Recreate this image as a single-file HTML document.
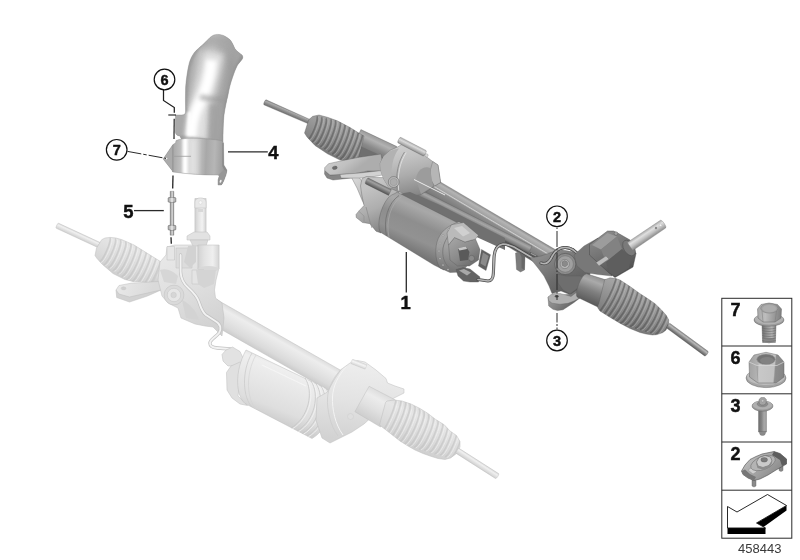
<!DOCTYPE html>
<html><head><meta charset="utf-8"><title>458443</title>
<style>
html,body{margin:0;padding:0;background:#fff;}
body{width:800px;height:560px;overflow:hidden;font-family:"Liberation Sans",sans-serif;}
svg{display:block;font-family:"Liberation Sans",sans-serif;}
</style></head><body>
<svg width="800" height="560" viewBox="0 0 800 560">
<defs>
<linearGradient id="g1" gradientUnits="userSpaceOnUse" x1="79.4" y1="232.9" x2="77.1" y2="237.9"><stop offset="0" stop-color="#dadada"/><stop offset="0.3" stop-color="#f0f0f0"/><stop offset="1" stop-color="#cfcfcf"/></linearGradient>
<linearGradient id="g2" gradientUnits="userSpaceOnUse" x1="278.8" y1="335.0" x2="267.2" y2="355.6"><stop offset="0" stop-color="#dcdcdc"/><stop offset="0.2" stop-color="#ededed"/><stop offset="0.5" stop-color="#e4e4e4"/><stop offset="0.8" stop-color="#dadada"/><stop offset="1" stop-color="#cccccc"/></linearGradient>
<linearGradient id="g3" gradientUnits="userSpaceOnUse" x1="140.0" y1="238.0" x2="118.0" y2="284.0"><stop offset="0" stop-color="#d6d6d6"/><stop offset="0.25" stop-color="#e6e6e6"/><stop offset="0.6" stop-color="#dadada"/><stop offset="1" stop-color="#c9c9c9"/></linearGradient>
<clipPath id="cp1"><polygon points="101.7,239.7 105.0,238.0 110.0,237.4 116.0,238.0 122.0,239.7 134.0,245.0 146.0,252.5 158.0,260.0 170.0,267.5 176.0,272.0 172.0,290.0 160.0,288.0 150.0,283.0 140.0,281.5 134.0,281.7 125.0,279.5 113.0,273.5 102.5,264.5 97.0,258.5 95.0,255.5 96.5,248.0"/></clipPath>
<linearGradient id="g4" gradientUnits="userSpaceOnUse" x1="177.1" y1="268.7" x2="166.9" y2="289.3"><stop offset="0" stop-color="#dcdcdc"/><stop offset="0.25" stop-color="#ececec"/><stop offset="1" stop-color="#cfcfcf"/></linearGradient>
<linearGradient id="g5" gradientUnits="userSpaceOnUse" x1="120.0" y1="283.0" x2="150.0" y2="296.0"><stop offset="0" stop-color="#e8e8e8"/><stop offset="1" stop-color="#dadada"/></linearGradient>
<linearGradient id="g6" gradientUnits="userSpaceOnUse" x1="175.0" y1="245.0" x2="215.0" y2="325.0"><stop offset="0" stop-color="#e9e9e9"/><stop offset="0.5" stop-color="#dfdfdf"/><stop offset="1" stop-color="#d2d2d2"/></linearGradient>
<linearGradient id="g7" gradientUnits="userSpaceOnUse" x1="206.1" y1="218.2" x2="194.9" y2="218.2"><stop offset="0" stop-color="#d2d2d2"/><stop offset="0.35" stop-color="#f2f2f2"/><stop offset="0.7" stop-color="#e2e2e2"/><stop offset="1" stop-color="#d0d0d0"/></linearGradient>
<linearGradient id="g8" gradientUnits="userSpaceOnUse" x1="219.1" y1="257.0" x2="197.9" y2="257.0"><stop offset="0" stop-color="#d4d4d4"/><stop offset="0.3" stop-color="#efefef"/><stop offset="0.7" stop-color="#e2e2e2"/><stop offset="1" stop-color="#d2d2d2"/></linearGradient>
<linearGradient id="g9" gradientUnits="userSpaceOnUse" x1="290.0" y1="362.0" x2="268.0" y2="418.0"><stop offset="0" stop-color="#dcdcdc"/><stop offset="0.15" stop-color="#efefef"/><stop offset="0.45" stop-color="#e7e7e7"/><stop offset="0.8" stop-color="#dedede"/><stop offset="1" stop-color="#cecece"/></linearGradient>
<linearGradient id="g10" gradientUnits="userSpaceOnUse" x1="355.0" y1="360.0" x2="345.0" y2="440.0"><stop offset="0" stop-color="#eeeeee"/><stop offset="0.5" stop-color="#e3e3e3"/><stop offset="1" stop-color="#d2d2d2"/></linearGradient>
<linearGradient id="g11" gradientUnits="userSpaceOnUse" x1="359.9" y1="362.0" x2="358.1" y2="366.5"><stop offset="0" stop-color="#e0e0e0"/><stop offset="0.4" stop-color="#f4f4f4"/><stop offset="1" stop-color="#d4d4d4"/></linearGradient>
<linearGradient id="g12" gradientUnits="userSpaceOnUse" x1="382.5" y1="392.7" x2="367.5" y2="419.8"><stop offset="0" stop-color="#dcdcdc"/><stop offset="0.25" stop-color="#ececec"/><stop offset="0.6" stop-color="#e0e0e0"/><stop offset="1" stop-color="#cdcdcd"/></linearGradient>
<linearGradient id="g13" gradientUnits="userSpaceOnUse" x1="432.0" y1="408.0" x2="410.0" y2="456.0"><stop offset="0" stop-color="#d5d5d5"/><stop offset="0.25" stop-color="#e6e6e6"/><stop offset="0.6" stop-color="#dadada"/><stop offset="1" stop-color="#c8c8c8"/></linearGradient>
<clipPath id="cp2"><polygon points="385.5,402.5 387.0,401.0 394.0,400.0 402.0,401.0 411.0,404.0 420.0,408.5 428.0,413.5 435.0,419.0 444.5,425.0 450.0,431.0 456.5,435.5 460.0,441.5 460.0,447.0 456.5,453.5 450.5,458.0 445.0,459.5 438.0,458.5 430.0,456.0 423.0,453.5 415.0,450.0 408.0,446.0 400.0,441.0 393.0,435.5 386.0,430.0 379.5,425.0"/></clipPath>
<linearGradient id="g14" gradientUnits="userSpaceOnUse" x1="478.6" y1="460.8" x2="475.4" y2="465.7"><stop offset="0" stop-color="#dadada"/><stop offset="0.3" stop-color="#f0f0f0"/><stop offset="1" stop-color="#cfcfcf"/></linearGradient>
<linearGradient id="g15" gradientUnits="userSpaceOnUse" x1="288.6" y1="109.6" x2="286.4" y2="114.7"><stop offset="0" stop-color="#8c8c8c"/><stop offset="0.25" stop-color="#aaaaaa"/><stop offset="0.6" stop-color="#8a8a8a"/><stop offset="1" stop-color="#6a6a6a"/></linearGradient>
<linearGradient id="g16" gradientUnits="userSpaceOnUse" x1="378.9" y1="138.1" x2="369.1" y2="158.9"><stop offset="0" stop-color="#9a9a9a"/><stop offset="0.2" stop-color="#b2b2b2"/><stop offset="0.5" stop-color="#8a8a8a"/><stop offset="1" stop-color="#666"/></linearGradient>
<linearGradient id="g17" gradientUnits="userSpaceOnUse" x1="512.5" y1="224.3" x2="501.5" y2="242.9"><stop offset="0" stop-color="#8a8a8a"/><stop offset="0.12" stop-color="#b4b4b4"/><stop offset="0.3" stop-color="#a2a2a2"/><stop offset="0.34" stop-color="#d0d0d0"/><stop offset="0.4" stop-color="#8e8e8e"/><stop offset="0.7" stop-color="#7c7c7c"/><stop offset="1" stop-color="#5e5e5e"/></linearGradient>
<linearGradient id="g18" gradientUnits="userSpaceOnUse" x1="475.0" y1="217.2" x2="471.0" y2="225.1"><stop offset="0" stop-color="#8c8c8c"/><stop offset="0.3" stop-color="#a6a6a6"/><stop offset="0.7" stop-color="#7c7c7c"/><stop offset="1" stop-color="#4e4e4e"/></linearGradient>
<linearGradient id="g19" gradientUnits="userSpaceOnUse" x1="350.0" y1="118.0" x2="330.0" y2="160.0"><stop offset="0" stop-color="#aeaeae"/><stop offset="0.3" stop-color="#9e9e9e"/><stop offset="0.65" stop-color="#8a8a8a"/><stop offset="1" stop-color="#727272"/></linearGradient>
<clipPath id="cp3"><polygon points="308.7,119.8 312.7,116.3 319.0,115.0 327.5,117.3 337.3,120.8 350.0,127.5 360.0,133.8 364.0,136.0 361.0,148.0 358.0,160.5 347.5,161.3 340.0,160.0 327.5,153.8 315.0,145.5 307.0,137.0 304.5,133.0"/></clipPath>
<linearGradient id="g20" gradientUnits="userSpaceOnUse" x1="330.0" y1="158.0" x2="345.0" y2="178.0"><stop offset="0" stop-color="#cecece"/><stop offset="0.6" stop-color="#c0c0c0"/><stop offset="1" stop-color="#adadad"/></linearGradient>
<linearGradient id="g21" gradientUnits="userSpaceOnUse" x1="352.0" y1="178.0" x2="372.0" y2="200.0"><stop offset="0" stop-color="#dadada"/><stop offset="0.5" stop-color="#c6c6c6"/><stop offset="1" stop-color="#a4a4a4"/></linearGradient>
<linearGradient id="g22" gradientUnits="userSpaceOnUse" x1="360.0" y1="190.0" x2="378.0" y2="232.0"><stop offset="0" stop-color="#c4c4c4"/><stop offset="0.5" stop-color="#aeaeae"/><stop offset="1" stop-color="#868686"/></linearGradient>
<linearGradient id="g23" gradientUnits="userSpaceOnUse" x1="379.9" y1="183.9" x2="377.1" y2="189.6"><stop offset="0" stop-color="#7a7a7a"/><stop offset="0.3" stop-color="#a0a0a0"/><stop offset="1" stop-color="#555"/></linearGradient>
<linearGradient id="g24" gradientUnits="userSpaceOnUse" x1="405.0" y1="140.0" x2="418.0" y2="196.0"><stop offset="0" stop-color="#d2d2d2"/><stop offset="0.3" stop-color="#c2c2c2"/><stop offset="0.6" stop-color="#acacac"/><stop offset="1" stop-color="#848484"/></linearGradient>
<linearGradient id="g25" gradientUnits="userSpaceOnUse" x1="413.4" y1="143.9" x2="410.6" y2="149.5"><stop offset="0" stop-color="#b0b0b0"/><stop offset="0.35" stop-color="#dadada"/><stop offset="0.7" stop-color="#b4b4b4"/><stop offset="1" stop-color="#8a8a8a"/></linearGradient>
<linearGradient id="g26" gradientUnits="userSpaceOnUse" x1="425.0" y1="205.0" x2="405.0" y2="250.0"><stop offset="0" stop-color="#a2a2a2"/><stop offset="0.12" stop-color="#a8a8a8"/><stop offset="0.4" stop-color="#8e8e8e"/><stop offset="0.7" stop-color="#929292"/><stop offset="1" stop-color="#747474"/></linearGradient>
<linearGradient id="g27" gradientUnits="userSpaceOnUse" x1="455.0" y1="222.0" x2="448.0" y2="274.0"><stop offset="0" stop-color="#b4b4b4"/><stop offset="0.5" stop-color="#a0a0a0"/><stop offset="1" stop-color="#707070"/></linearGradient>
<linearGradient id="g28" gradientUnits="userSpaceOnUse" x1="455.0" y1="240.0" x2="475.0" y2="268.0"><stop offset="0" stop-color="#a0a0a0"/><stop offset="0.5" stop-color="#888888"/><stop offset="1" stop-color="#646464"/></linearGradient>
<linearGradient id="g29" gradientUnits="userSpaceOnUse" x1="545.0" y1="255.0" x2="570.0" y2="300.0"><stop offset="0" stop-color="#8a8a8a"/><stop offset="0.5" stop-color="#6c6c6c"/><stop offset="1" stop-color="#585858"/></linearGradient>
<linearGradient id="g30" gradientUnits="userSpaceOnUse" x1="550.0" y1="296.0" x2="565.0" y2="312.0"><stop offset="0" stop-color="#9a9a9a"/><stop offset="0.5" stop-color="#848484"/><stop offset="1" stop-color="#666666"/></linearGradient>
<linearGradient id="g31" gradientUnits="userSpaceOnUse" x1="600.0" y1="232.0" x2="622.0" y2="280.0"><stop offset="0" stop-color="#8c8c8c"/><stop offset="0.4" stop-color="#747474"/><stop offset="0.75" stop-color="#5a5a5a"/><stop offset="1" stop-color="#484848"/></linearGradient>
<linearGradient id="g32" gradientUnits="userSpaceOnUse" x1="643.8" y1="231.3" x2="649.2" y2="239.4"><stop offset="0" stop-color="#a8a8a8"/><stop offset="0.3" stop-color="#e0e0e0"/><stop offset="0.6" stop-color="#c2c2c2"/><stop offset="1" stop-color="#8a8a8a"/></linearGradient>
<linearGradient id="g33" gradientUnits="userSpaceOnUse" x1="597.7" y1="276.4" x2="587.3" y2="302.9"><stop offset="0" stop-color="#8e8e8e"/><stop offset="0.22" stop-color="#aaaaaa"/><stop offset="0.55" stop-color="#808080"/><stop offset="1" stop-color="#585858"/></linearGradient>
<linearGradient id="g34" gradientUnits="userSpaceOnUse" x1="640.0" y1="285.0" x2="618.0" y2="330.0"><stop offset="0" stop-color="#acacac"/><stop offset="0.3" stop-color="#9c9c9c"/><stop offset="0.65" stop-color="#868686"/><stop offset="1" stop-color="#6e6e6e"/></linearGradient>
<clipPath id="cp4"><polygon points="604.7,279.7 610.0,277.8 615.0,278.3 620.0,280.0 630.0,286.5 640.0,293.7 647.5,298.5 655.0,303.7 661.0,309.5 666.0,315.0 668.8,320.0 668.3,325.0 666.0,330.0 662.5,332.7 657.0,334.6 652.5,335.0 646.0,334.0 640.0,332.5 630.0,328.5 620.0,323.2 610.0,317.3 600.0,311.0 597.7,307.7"/></clipPath>
<linearGradient id="g35" gradientUnits="userSpaceOnUse" x1="688.8" y1="337.3" x2="685.5" y2="341.8"><stop offset="0" stop-color="#8a8a8a"/><stop offset="0.3" stop-color="#b8b8b8"/><stop offset="0.6" stop-color="#8c8c8c"/><stop offset="1" stop-color="#5e5e5e"/></linearGradient>
<filter id="bl3" filterUnits="userSpaceOnUse" x="0" y="0" width="800" height="560"><feGaussianBlur stdDeviation="3"/></filter>
<filter id="bl2" filterUnits="userSpaceOnUse" x="0" y="0" width="800" height="560"><feGaussianBlur stdDeviation="2"/></filter>
<filter id="bl1" filterUnits="userSpaceOnUse" x="0" y="0" width="800" height="560"><feGaussianBlur stdDeviation="1"/></filter>
<filter id="bl05" filterUnits="userSpaceOnUse" x="0" y="0" width="800" height="560"><feGaussianBlur stdDeviation="0.5"/></filter>
<clipPath id="cUp"><path d="M210,37.5 C213,35 215,34.4 217.5,34.4 C220,34.4 223,35 225,36.3 C228,38 230,39.5 231,41 C233,44 234,47 235,48.8 C237,51.5 240,53.5 242,55 C243,56.5 243,58 242,59.4 C240.5,61.5 239,63 237.5,65 C235.5,69 234,73 232.5,77.5 C230.5,83 229,89 228,95 C226.5,101 225,108 224,115 C223.3,122 223,130 223,146 L185.6,142 C183,141 181,139 180,136 C176.5,135.5 175.6,134 175.6,132 L175.6,115 L182,115 C184.5,115 185.6,114 185.6,111 C185.4,103 185.4,95 185.6,87.5 C185.9,83 186.4,79 187,75 C187.6,70.5 188.4,66.5 189.4,62.5 C190.6,58.5 192.4,55.3 194.4,52.5 C197,49.5 200,47 202.5,45 C205,42.5 207.5,40 210,37.5 Z"/></clipPath>
<clipPath id="cLo"><path d="M172.5,145 L175.6,142.8 L176,140.6 C180,139 184,138.5 188,138.3 C195,138 205,138.3 222,140.6 L223.5,143.2 L223.8,165 L226.9,170 C226.6,173 226,175.5 225,177.5 C224,180.5 222.8,183 221.3,185 L218,185 L218,180 L219.4,175.6 L217.5,175 C204,175.2 187,174 172.5,171.9 L172.5,171 L163.2,159 L172.5,145.2 Z"/></clipPath>
<linearGradient id="g36" gradientUnits="userSpaceOnUse" x1="184.0" y1="95.0" x2="226.0" y2="101.0"><stop offset="0" stop-color="#a3a3a3"/><stop offset="0.25" stop-color="#c2c2c2"/><stop offset="0.55" stop-color="#bcbcbc"/><stop offset="0.8" stop-color="#acacac"/><stop offset="1" stop-color="#9e9e9e"/></linearGradient>
<linearGradient id="g37" gradientUnits="userSpaceOnUse" x1="172.0" y1="160.0" x2="225.0" y2="162.0"><stop offset="0" stop-color="#a6a6a6"/><stop offset="0.14" stop-color="#bcbcbc"/><stop offset="0.3" stop-color="#d4d4d4"/><stop offset="0.5" stop-color="#c4c4c4"/><stop offset="0.64" stop-color="#a8a8a8"/><stop offset="0.8" stop-color="#b6b6b6"/><stop offset="1" stop-color="#979797"/></linearGradient>
<linearGradient id="g38" gradientUnits="userSpaceOnUse" x1="173.8" y1="213.2" x2="170.2" y2="213.2"><stop offset="0" stop-color="#7d7d7d"/><stop offset="0.45" stop-color="#e2e2e2"/><stop offset="1" stop-color="#7a7a7a"/></linearGradient>
<linearGradient id="g39" gradientUnits="userSpaceOnUse" x1="776.0" y1="333.8" x2="762.0" y2="333.8"><stop offset="0" stop-color="#7e7e7e"/><stop offset="0.3" stop-color="#b6b6b6"/><stop offset="0.6" stop-color="#9a9a9a"/><stop offset="1" stop-color="#6e6e6e"/></linearGradient>
<linearGradient id="g40" gradientUnits="userSpaceOnUse" x1="757.0" y1="310.0" x2="782.0" y2="312.0"><stop offset="0" stop-color="#a6a6a6"/><stop offset="0.35" stop-color="#bdbdbd"/><stop offset="0.7" stop-color="#9a9a9a"/><stop offset="1" stop-color="#7e7e7e"/></linearGradient>
<linearGradient id="g41" gradientUnits="userSpaceOnUse" x1="749.0" y1="365.0" x2="784.0" y2="368.0"><stop offset="0" stop-color="#a2a2a2"/><stop offset="0.25" stop-color="#b2b2b2"/><stop offset="0.3" stop-color="#c8c8c8"/><stop offset="0.72" stop-color="#c2c2c2"/><stop offset="0.76" stop-color="#8e8e8e"/><stop offset="1" stop-color="#848484"/></linearGradient>
<linearGradient id="g42" gradientUnits="userSpaceOnUse" x1="766.5" y1="421.0" x2="758.5" y2="421.0"><stop offset="0" stop-color="#9c9c9c"/><stop offset="0.3" stop-color="#a8a8a8"/><stop offset="0.6" stop-color="#858585"/><stop offset="1" stop-color="#6c6c6c"/></linearGradient>
<linearGradient id="g43" gradientUnits="userSpaceOnUse" x1="750.0" y1="455.0" x2="775.0" y2="480.0"><stop offset="0" stop-color="#bcbcbc"/><stop offset="0.5" stop-color="#a2a2a2"/><stop offset="1" stop-color="#858585"/></linearGradient>
</defs>
<rect width="800" height="560" fill="#ffffff"/>
<g id="ghost">
<path d="M58.6,223.3 L100.1,242.5 L97.9,247.5 L56.4,228.3 A0.9,2.7 24.8 0 1 58.6,223.3 Z" fill="url(#g1)" stroke="#bcbcbc" stroke-width="0.5" />
<path d="M201.8,291.1 L355.8,378.9 L344.2,399.5 L190.2,311.7 Z" fill="url(#g2)" stroke="#bcbcbc" stroke-width="0.5" />
<polygon points="101.7,239.7 105.0,238.0 110.0,237.4 116.0,238.0 122.0,239.7 134.0,245.0 146.0,252.5 158.0,260.0 170.0,267.5 176.0,272.0 172.0,290.0 160.0,288.0 150.0,283.0 140.0,281.5 134.0,281.7 125.0,279.5 113.0,273.5 102.5,264.5 97.0,258.5 95.0,255.5 96.5,248.0" fill="url(#g3)" stroke="#bcbcbc" stroke-width="0.5" stroke-linejoin="round" />
<g clip-path="url(#cp1)">
<path d="M109.8,237.3 A2.7,13.4 23.7 0 1 99.0,261.8" fill="none" stroke="#c2c2c2" stroke-width="1.6" opacity="0.6"/>
<path d="M115.0,238.6 A2.9,14.2 23.7 0 1 103.5,264.7" fill="none" stroke="#c2c2c2" stroke-width="1.6" opacity="0.6"/>
<path d="M120.2,240.0 A3.0,15.1 23.7 0 1 108.0,267.6" fill="none" stroke="#c2c2c2" stroke-width="1.6" opacity="0.6"/>
<path d="M125.3,241.4 A3.2,15.9 23.7 0 1 112.5,270.5" fill="none" stroke="#c2c2c2" stroke-width="1.6" opacity="0.6"/>
<path d="M130.5,242.7 A3.4,16.8 23.7 0 1 117.0,273.4" fill="none" stroke="#c2c2c2" stroke-width="1.6" opacity="0.6"/>
<path d="M135.7,244.1 A3.5,17.6 23.7 0 1 121.5,276.3" fill="none" stroke="#c2c2c2" stroke-width="1.6" opacity="0.6"/>
<path d="M140.8,245.5 A3.7,18.4 23.7 0 1 126.0,279.2" fill="none" stroke="#c2c2c2" stroke-width="1.6" opacity="0.6"/>
<path d="M146.0,246.8 A3.9,19.2 23.7 0 1 130.5,282.1" fill="none" stroke="#c2c2c2" stroke-width="1.6" opacity="0.6"/>
<path d="M151.2,248.2 A4.0,20.1 23.7 0 1 135.0,284.9" fill="none" stroke="#c2c2c2" stroke-width="1.6" opacity="0.6"/>
<path d="M156.3,249.5 A4.2,20.9 23.7 0 1 139.5,287.8" fill="none" stroke="#c2c2c2" stroke-width="1.6" opacity="0.6"/>
<path d="M161.5,250.9 A4.4,21.8 23.7 0 1 144.0,290.7" fill="none" stroke="#c2c2c2" stroke-width="1.6" opacity="0.6"/>
<path d="M166.7,252.3 A4.5,22.6 23.7 0 1 148.5,293.6" fill="none" stroke="#c2c2c2" stroke-width="1.6" opacity="0.6"/>
<path d="M111.7,238.1 A2.7,13.4 23.7 0 1 100.9,262.6" fill="none" stroke="#f4f4f4" stroke-width="0.8" opacity="0.7"/>
<path d="M116.9,239.4 A2.9,14.2 23.7 0 1 105.4,265.5" fill="none" stroke="#f4f4f4" stroke-width="0.8" opacity="0.7"/>
<path d="M122.1,240.8 A3.0,15.1 23.7 0 1 109.9,268.4" fill="none" stroke="#f4f4f4" stroke-width="0.8" opacity="0.7"/>
<path d="M127.2,242.2 A3.2,15.9 23.7 0 1 114.4,271.3" fill="none" stroke="#f4f4f4" stroke-width="0.8" opacity="0.7"/>
<path d="M132.4,243.5 A3.4,16.8 23.7 0 1 118.9,274.2" fill="none" stroke="#f4f4f4" stroke-width="0.8" opacity="0.7"/>
<path d="M137.6,244.9 A3.5,17.6 23.7 0 1 123.4,277.1" fill="none" stroke="#f4f4f4" stroke-width="0.8" opacity="0.7"/>
<path d="M142.7,246.3 A3.7,18.4 23.7 0 1 127.9,280.0" fill="none" stroke="#f4f4f4" stroke-width="0.8" opacity="0.7"/>
<path d="M147.9,247.6 A3.9,19.2 23.7 0 1 132.4,282.9" fill="none" stroke="#f4f4f4" stroke-width="0.8" opacity="0.7"/>
<path d="M153.1,249.0 A4.0,20.1 23.7 0 1 136.9,285.7" fill="none" stroke="#f4f4f4" stroke-width="0.8" opacity="0.7"/>
<path d="M158.2,250.3 A4.2,20.9 23.7 0 1 141.4,288.6" fill="none" stroke="#f4f4f4" stroke-width="0.8" opacity="0.7"/>
<path d="M163.4,251.7 A4.4,21.8 23.7 0 1 145.9,291.5" fill="none" stroke="#f4f4f4" stroke-width="0.8" opacity="0.7"/>
<path d="M168.6,253.1 A4.5,22.6 23.7 0 1 150.4,294.4" fill="none" stroke="#f4f4f4" stroke-width="0.8" opacity="0.7"/>
</g>
<path d="M163.1,261.7 L191.1,275.7 L180.9,296.3 L152.9,282.3 Z" fill="url(#g4)" stroke="#bcbcbc" stroke-width="0.45" />
<polygon points="116.0,290.0 116.7,297.5 129.5,302.0 147.5,296.0 161.0,290.0 168.0,296.0 170.0,286.0" fill="#d2d2d2" stroke="#bcbcbc" stroke-width="0.5" stroke-linejoin="round" />
<polygon points="116.0,290.0 119.0,285.5 131.0,283.2 155.0,281.7 170.0,281.0 172.0,288.0 161.0,290.0 147.5,293.0 129.5,297.0 119.0,294.0" fill="url(#g5)" stroke="#bcbcbc" stroke-width="0.5" stroke-linejoin="round" />
<ellipse cx="123.6" cy="288.3" rx="2.4" ry="1.6" fill="#cfcfcf" stroke="#c0c0c0" stroke-width="0.3"/>
<polygon points="160.0,262.0 166.0,255.0 167.0,247.0 174.5,245.0 186.0,245.0 194.0,245.0 218.0,246.0 218.5,270.0 216.0,280.0 214.5,290.0 215.5,298.0 222.0,303.0 224.0,318.0 222.0,336.0 213.0,327.0 205.0,326.0 195.0,324.0 181.0,318.0 178.0,308.0 168.0,303.0 162.0,296.0 158.0,280.0" fill="url(#g6)" stroke="#bcbcbc" stroke-width="0.5" stroke-linejoin="round" />
<path d="M206.1,198.5 L206.1,238.0 L194.9,238.0 L194.9,198.5 Z" fill="url(#g7)" stroke="#bcbcbc" stroke-width="0.5" />
<path d="M194.9,202 C194.9,196.5 206.1,196.5 206.1,202 L206.1,208 L194.9,208 Z" fill="#e8e8e8" stroke="#bcbcbc" stroke-width="0.5" />
<ellipse cx="200.5" cy="202.5" rx="1.6" ry="1.8" fill="#f8f8f8" stroke="#c4c4c4" stroke-width="0.3"/>
<rect x="198" y="209" width="5" height="3" fill="#d8d8d8"/>
<polygon points="194.0,232.0 207.0,232.0 210.0,236.0 210.0,240.0 187.0,240.0 187.0,236.0" fill="#e2e2e2" stroke="#bcbcbc" stroke-width="0.5" stroke-linejoin="round" />
<polygon points="190.0,240.0 208.0,240.0 206.0,246.0 193.0,246.0" fill="#dadada" stroke="#bcbcbc" stroke-width="0.45" stroke-linejoin="round" />
<path d="M219.1,245.0 L219.1,269.0 L197.9,269.0 L197.9,245.0 Z" fill="url(#g8)" stroke="#bcbcbc" stroke-width="0.5" />
<ellipse cx="208.5" cy="269" rx="10.6" ry="3" fill="#d8d8d8"/>
<polygon points="192.0,270.0 204.0,270.0 204.0,284.0 192.0,284.0" fill="#e4e4e4" stroke="#bcbcbc" stroke-width="0.45" stroke-linejoin="round" />
<polygon points="167.0,246.5 174.5,246.5 174.5,260.0 167.0,260.0" fill="#e6e6e6" stroke="#bcbcbc" stroke-width="0.5" stroke-linejoin="round" />
<polygon points="176.0,248.0 192.0,248.0 192.0,268.0 176.0,268.0" fill="#dcdcdc" stroke="#bcbcbc" stroke-width="0.45" stroke-linejoin="round" />
<path d="M188,246 L196,246 L196,262 L190,268 L184,262 Z" fill="#d2d2d2" />
<path d="M196,270 L216,270 L214,284 L204,288 L198,284 Z" fill="#d4d4d4" />
<path d="M182,300 C190,304 196,310 199,320 L186,318 Z" fill="#d3d3d3" />
<path d="M160,270 C166,268 172,270 178,276 L176,284 L164,282 Z" fill="#d6d6d6" />
<circle cx="174" cy="295" r="9.9" fill="#dadada" stroke="#bcbcbc" stroke-width="0.45"/>
<circle cx="174" cy="295" r="6.7" fill="#e6e6e6" stroke="#bcbcbc" stroke-width="0.4"/>
<circle cx="173.6" cy="295" r="2.8" fill="#d6d6d6" stroke="#bcbcbc" stroke-width="0.3"/>
<path d="M180.6,255 L180.6,272 C181,280 184,284 188,287.5 C193,292 197,296 199,302 C201,308 202,312 206,315 L216,321.5 C221,324.5 221.5,329 219,333 C216,337 211,339 210,342.5 C209.5,346 212,347.5 217.5,348 L230,349" fill="none" stroke="#c2c2c2" stroke-width="3.3" stroke-linecap="round"/>
<path d="M180.6,255 L180.6,272 C181,280 184,284 188,287.5 C193,292 197,296 199,302 C201,308 202,312 206,315 L216,321.5 C221,324.5 221.5,329 219,333 C216,337 211,339 210,342.5 C209.5,346 212,347.5 217.5,348 L230,349" fill="none" stroke="#f2f2f2" stroke-width="1.9" stroke-linecap="round"/>
<polygon points="222.0,354.5 226.0,350.0 232.5,347.0 240.0,351.5 243.0,358.0 240.0,366.0 228.0,366.0 223.0,361.0" fill="#e2e2e2" stroke="#bcbcbc" stroke-width="0.5" stroke-linejoin="round" />
<polygon points="226.5,372.5 231.0,366.0 240.0,362.0 246.0,366.0 240.0,380.0 238.0,396.0 247.5,405.5 240.0,404.0 232.0,398.0 227.0,390.0" fill="#e0e0e0" stroke="#bcbcbc" stroke-width="0.5" stroke-linejoin="round" />
<path d="M246,350 L326,388.5 C335,402 330,428 312,438.5 L245,403.5 C236,396 234,372 246,350 Z" fill="url(#g9)" stroke="#bcbcbc" stroke-width="0.5" />
<path d="M252,353 C241,372 243,398 252,407" fill="none" stroke="#cccccc" stroke-width="0.8" />
<path d="M256,355 C245,374 247,400 256,409" fill="none" stroke="#d4d4d4" stroke-width="0.7" />
<path d="M262,365 L306,386" fill="none" stroke="#f6f6f6" stroke-width="1.2" opacity="0.8"/>
<path d="M321.0,386.0 C330.0,399.5 325.0,425.5 307.0,436.0" fill="none" stroke="#c6c6c6" stroke-width="0.8" />
<path d="M322.5,386.7 C331.5,400.2 326.5,426.2 308.5,436.7" fill="none" stroke="#f4f4f4" stroke-width="0.8" />
<path d="M316.0,383.5 C325.0,397.0 320.0,423.0 302.0,433.5" fill="none" stroke="#c6c6c6" stroke-width="0.8" />
<path d="M317.5,384.2 C326.5,397.7 321.5,423.7 303.5,434.2" fill="none" stroke="#f4f4f4" stroke-width="0.8" />
<path d="M311.0,381.0 C320.0,394.5 315.0,420.5 297.0,431.0" fill="none" stroke="#c6c6c6" stroke-width="0.8" />
<path d="M312.5,381.7 C321.5,395.2 316.5,421.2 298.5,431.7" fill="none" stroke="#f4f4f4" stroke-width="0.8" />
<path d="M305.0,378.0 C314.0,391.5 309.0,417.5 291.0,428.0" fill="none" stroke="#c6c6c6" stroke-width="0.8" />
<path d="M306.5,378.7 C315.5,392.2 310.5,418.2 292.5,428.7" fill="none" stroke="#f4f4f4" stroke-width="0.8" />
<polygon points="317.0,398.0 327.5,392.0 334.0,380.0 341.0,369.5 350.0,363.0 357.5,360.5 365.0,362.0 376.0,370.0 386.0,378.5 387.5,383.0 395.0,386.0 404.0,389.0 404.0,393.0 394.0,398.0 388.0,402.0 381.0,408.0 375.0,414.0 364.0,424.0 352.0,432.0 340.0,438.0 330.0,443.0 322.0,438.0 316.0,420.0" fill="url(#g10)" stroke="#bcbcbc" stroke-width="0.5" stroke-linejoin="round" />
<path d="M341,369.5 C333,378 328,388 327.5,398 C327,410 330,425 338,436" fill="none" stroke="#cdcdcd" stroke-width="0.8" />
<path d="M346,367 C338,376 333,386 332.5,397 C332,409 335,424 343,435" fill="none" stroke="#f4f4f4" stroke-width="1.0" />
<circle cx="350.5" cy="416.5" r="3" fill="#dedede" stroke="#c8c8c8" stroke-width="0.4"/>
<path d="M352.9,359.3 L366.9,364.8 L365.1,369.2 L351.1,363.7 A0.8,2.4 21.4 0 1 352.9,359.3 Z" fill="url(#g11)" stroke="#bcbcbc" stroke-width="0.3" />
<path d="M369.1,386.3 L395.5,400.0 L380.5,427.0 L354.9,411.7 Z" fill="url(#g12)" stroke="#bcbcbc" stroke-width="0.45" />
<polygon points="385.5,402.5 387.0,401.0 394.0,400.0 402.0,401.0 411.0,404.0 420.0,408.5 428.0,413.5 435.0,419.0 444.5,425.0 450.0,431.0 456.5,435.5 460.0,441.5 460.0,447.0 456.5,453.5 450.5,458.0 445.0,459.5 438.0,458.5 430.0,456.0 423.0,453.5 415.0,450.0 408.0,446.0 400.0,441.0 393.0,435.5 386.0,430.0 379.5,425.0" fill="url(#g13)" stroke="#bcbcbc" stroke-width="0.5" stroke-linejoin="round" />
<g clip-path="url(#cp2)">
<path d="M395.6,394.8 A4.5,22.7 23.7 0 1 377.4,436.3" fill="none" stroke="#c2c2c2" stroke-width="1.6" opacity="0.6"/>
<path d="M400.2,397.6 A4.4,22.0 23.7 0 1 382.6,437.9" fill="none" stroke="#c2c2c2" stroke-width="1.6" opacity="0.6"/>
<path d="M404.9,400.4 A4.3,21.3 23.7 0 1 387.8,439.4" fill="none" stroke="#c2c2c2" stroke-width="1.6" opacity="0.6"/>
<path d="M409.6,403.2 A4.1,20.7 23.7 0 1 393.0,441.0" fill="none" stroke="#c2c2c2" stroke-width="1.6" opacity="0.6"/>
<path d="M414.2,405.9 A4.0,20.0 23.7 0 1 398.2,442.6" fill="none" stroke="#c2c2c2" stroke-width="1.6" opacity="0.6"/>
<path d="M418.9,408.7 A3.9,19.3 23.7 0 1 403.4,444.1" fill="none" stroke="#c2c2c2" stroke-width="1.6" opacity="0.6"/>
<path d="M423.6,411.5 A3.7,18.7 23.7 0 1 408.6,445.7" fill="none" stroke="#c2c2c2" stroke-width="1.6" opacity="0.6"/>
<path d="M428.2,414.3 A3.6,18.0 23.7 0 1 413.8,447.2" fill="none" stroke="#c2c2c2" stroke-width="1.6" opacity="0.6"/>
<path d="M432.9,417.0 A3.5,17.3 23.7 0 1 419.0,448.8" fill="none" stroke="#c2c2c2" stroke-width="1.6" opacity="0.6"/>
<path d="M437.6,419.8 A3.3,16.7 23.7 0 1 424.2,450.3" fill="none" stroke="#c2c2c2" stroke-width="1.6" opacity="0.6"/>
<path d="M442.2,422.6 A3.2,16.0 23.7 0 1 429.4,451.9" fill="none" stroke="#c2c2c2" stroke-width="1.6" opacity="0.6"/>
<path d="M446.9,425.4 A3.1,15.3 23.7 0 1 434.6,453.5" fill="none" stroke="#c2c2c2" stroke-width="1.6" opacity="0.6"/>
<path d="M451.6,428.2 A2.9,14.7 23.7 0 1 439.8,455.0" fill="none" stroke="#c2c2c2" stroke-width="1.6" opacity="0.6"/>
<path d="M456.2,430.9 A2.8,14.0 23.7 0 1 445.0,456.6" fill="none" stroke="#c2c2c2" stroke-width="1.6" opacity="0.6"/>
<path d="M460.9,433.7 A2.7,13.3 23.7 0 1 450.2,458.1" fill="none" stroke="#c2c2c2" stroke-width="1.6" opacity="0.6"/>
<path d="M397.5,395.6 A4.5,22.7 23.7 0 1 379.3,437.1" fill="none" stroke="#f4f4f4" stroke-width="0.8" opacity="0.7"/>
<path d="M402.1,398.4 A4.4,22.0 23.7 0 1 384.5,438.7" fill="none" stroke="#f4f4f4" stroke-width="0.8" opacity="0.7"/>
<path d="M406.8,401.2 A4.3,21.3 23.7 0 1 389.7,440.2" fill="none" stroke="#f4f4f4" stroke-width="0.8" opacity="0.7"/>
<path d="M411.5,404.0 A4.1,20.7 23.7 0 1 394.9,441.8" fill="none" stroke="#f4f4f4" stroke-width="0.8" opacity="0.7"/>
<path d="M416.1,406.7 A4.0,20.0 23.7 0 1 400.1,443.4" fill="none" stroke="#f4f4f4" stroke-width="0.8" opacity="0.7"/>
<path d="M420.8,409.5 A3.9,19.3 23.7 0 1 405.3,444.9" fill="none" stroke="#f4f4f4" stroke-width="0.8" opacity="0.7"/>
<path d="M425.5,412.3 A3.7,18.7 23.7 0 1 410.5,446.5" fill="none" stroke="#f4f4f4" stroke-width="0.8" opacity="0.7"/>
<path d="M430.1,415.1 A3.6,18.0 23.7 0 1 415.7,448.0" fill="none" stroke="#f4f4f4" stroke-width="0.8" opacity="0.7"/>
<path d="M434.8,417.8 A3.5,17.3 23.7 0 1 420.9,449.6" fill="none" stroke="#f4f4f4" stroke-width="0.8" opacity="0.7"/>
<path d="M439.5,420.6 A3.3,16.7 23.7 0 1 426.1,451.1" fill="none" stroke="#f4f4f4" stroke-width="0.8" opacity="0.7"/>
<path d="M444.1,423.4 A3.2,16.0 23.7 0 1 431.3,452.7" fill="none" stroke="#f4f4f4" stroke-width="0.8" opacity="0.7"/>
<path d="M448.8,426.2 A3.1,15.3 23.7 0 1 436.5,454.3" fill="none" stroke="#f4f4f4" stroke-width="0.8" opacity="0.7"/>
<path d="M453.5,429.0 A2.9,14.7 23.7 0 1 441.7,455.8" fill="none" stroke="#f4f4f4" stroke-width="0.8" opacity="0.7"/>
<path d="M458.1,431.7 A2.8,14.0 23.7 0 1 446.9,457.4" fill="none" stroke="#f4f4f4" stroke-width="0.8" opacity="0.7"/>
<path d="M462.8,434.5 A2.7,13.3 23.7 0 1 452.1,458.9" fill="none" stroke="#f4f4f4" stroke-width="0.8" opacity="0.7"/>
</g>
<path d="M458.6,448.1 L498.6,473.6 A1.0,2.9 32.5 0 1 495.4,478.4 L455.4,452.9 Z" fill="url(#g14)" stroke="#bcbcbc" stroke-width="0.5" />
</g>
<g id="main">
<path d="M266.1,99.8 L310.9,119.9 L309.1,124.1 L263.9,104.8 A1.0,2.8 23.6 0 1 266.1,99.8 Z" fill="url(#g15)" stroke="#555" stroke-width="0.35" />
<path d="M360.9,129.6 L396.9,146.6 L387.1,167.4 L351.1,150.4 Z" fill="url(#g16)" stroke="#555" stroke-width="0.35" />
<polygon points="360.0,146.0 381.0,155.5 378.0,163.0 357.0,157.0" fill="#6f6f6f" />
<path d="M433.4,177.9 L591.5,270.9 L580.5,289.5 L422.6,196.1 Z" fill="url(#g17)" stroke="#555" stroke-width="0.35" />
<polygon points="510.0,241.0 518.0,245.0 517.0,247.4 509.0,243.4" fill="#555" />
<polygon points="511.0,241.8 516.5,244.6 516.0,245.6 510.5,242.8" fill="#9a9a9a" />
<polygon points="530.0,252.0 538.0,256.0 537.0,258.4 529.0,254.4" fill="#555" />
<polygon points="531.0,252.8 536.5,255.6 536.0,256.6 530.5,253.8" fill="#9a9a9a" />
<path d="M418.0,188.4 L532.0,246.1 L528.0,253.9 L414.0,196.2 Z" fill="url(#g18)" stroke="#555" stroke-width="0.3" />
<path d="M414,197 L470,223.5 L520,249" fill="none" stroke="#555" stroke-width="1.4" opacity="0.6"/>
<polygon points="308.7,119.8 312.7,116.3 319.0,115.0 327.5,117.3 337.3,120.8 350.0,127.5 360.0,133.8 364.0,136.0 361.0,148.0 358.0,160.5 347.5,161.3 340.0,160.0 327.5,153.8 315.0,145.5 307.0,137.0 304.5,133.0" fill="url(#g19)" stroke="#555" stroke-width="0.35" stroke-linejoin="round" />
<g clip-path="url(#cp3)">
<path d="M316.7,116.3 A2.5,12.4 21.5 0 1 307.6,139.4" fill="none" stroke="#4e4e4e" stroke-width="1.7" opacity="0.5"/>
<path d="M321.3,117.4 A2.6,13.1 21.5 0 1 311.7,141.8" fill="none" stroke="#4e4e4e" stroke-width="1.7" opacity="0.5"/>
<path d="M325.9,118.4 A2.8,13.9 21.5 0 1 315.7,144.2" fill="none" stroke="#4e4e4e" stroke-width="1.7" opacity="0.5"/>
<path d="M330.5,119.4 A2.9,14.6 21.5 0 1 319.8,146.6" fill="none" stroke="#4e4e4e" stroke-width="1.7" opacity="0.5"/>
<path d="M335.1,120.4 A3.1,15.4 21.5 0 1 323.9,149.0" fill="none" stroke="#4e4e4e" stroke-width="1.7" opacity="0.5"/>
<path d="M339.7,121.4 A3.2,16.1 21.5 0 1 327.9,151.4" fill="none" stroke="#4e4e4e" stroke-width="1.7" opacity="0.5"/>
<path d="M344.4,122.4 A3.4,16.9 21.5 0 1 332.0,153.8" fill="none" stroke="#4e4e4e" stroke-width="1.7" opacity="0.5"/>
<path d="M349.0,123.4 A3.5,17.6 21.5 0 1 336.0,156.2" fill="none" stroke="#4e4e4e" stroke-width="1.7" opacity="0.5"/>
<path d="M353.6,124.4 A3.7,18.4 21.5 0 1 340.1,158.6" fill="none" stroke="#4e4e4e" stroke-width="1.7" opacity="0.5"/>
<path d="M358.2,125.4 A3.8,19.1 21.5 0 1 344.2,161.0" fill="none" stroke="#4e4e4e" stroke-width="1.7" opacity="0.5"/>
<path d="M362.8,126.4 A4.0,19.9 21.5 0 1 348.2,163.4" fill="none" stroke="#4e4e4e" stroke-width="1.7" opacity="0.5"/>
<path d="M367.4,127.5 A4.1,20.6 21.5 0 1 352.3,165.8" fill="none" stroke="#4e4e4e" stroke-width="1.7" opacity="0.5"/>
<path d="M318.6,117.1 A2.5,12.4 21.5 0 1 309.5,140.2" fill="none" stroke="#c0c0c0" stroke-width="0.8" opacity="0.55"/>
<path d="M323.2,118.2 A2.6,13.1 21.5 0 1 313.6,142.6" fill="none" stroke="#c0c0c0" stroke-width="0.8" opacity="0.55"/>
<path d="M327.8,119.2 A2.8,13.9 21.5 0 1 317.6,145.0" fill="none" stroke="#c0c0c0" stroke-width="0.8" opacity="0.55"/>
<path d="M332.4,120.2 A2.9,14.6 21.5 0 1 321.7,147.4" fill="none" stroke="#c0c0c0" stroke-width="0.8" opacity="0.55"/>
<path d="M337.0,121.2 A3.1,15.4 21.5 0 1 325.8,149.8" fill="none" stroke="#c0c0c0" stroke-width="0.8" opacity="0.55"/>
<path d="M341.6,122.2 A3.2,16.1 21.5 0 1 329.8,152.2" fill="none" stroke="#c0c0c0" stroke-width="0.8" opacity="0.55"/>
<path d="M346.3,123.2 A3.4,16.9 21.5 0 1 333.9,154.6" fill="none" stroke="#c0c0c0" stroke-width="0.8" opacity="0.55"/>
<path d="M350.9,124.2 A3.5,17.6 21.5 0 1 337.9,157.0" fill="none" stroke="#c0c0c0" stroke-width="0.8" opacity="0.55"/>
<path d="M355.5,125.2 A3.7,18.4 21.5 0 1 342.0,159.4" fill="none" stroke="#c0c0c0" stroke-width="0.8" opacity="0.55"/>
<path d="M360.1,126.2 A3.8,19.1 21.5 0 1 346.1,161.8" fill="none" stroke="#c0c0c0" stroke-width="0.8" opacity="0.55"/>
<path d="M364.7,127.2 A4.0,19.9 21.5 0 1 350.1,164.2" fill="none" stroke="#c0c0c0" stroke-width="0.8" opacity="0.55"/>
<path d="M369.3,128.3 A4.1,20.6 21.5 0 1 354.2,166.6" fill="none" stroke="#c0c0c0" stroke-width="0.8" opacity="0.55"/>
</g>
<polygon points="324.7,170.5 330.0,175.0 355.5,173.5 367.5,171.0 384.0,171.0 384.0,174.5 367.0,175.0 356.0,177.5 333.0,180.0 327.0,178.0 324.5,174.0" fill="#858585" stroke="#555" stroke-width="0.35" stroke-linejoin="round" />
<polygon points="324.7,167.7 328.5,163.7 342.0,160.7 358.0,157.5 381.0,154.0 384.0,171.0 367.5,171.0 355.5,173.5 330.0,175.0 324.7,170.5" fill="url(#g20)" stroke="#555" stroke-width="0.35" stroke-linejoin="round" />
<ellipse cx="334.8" cy="167.8" rx="2.5" ry="1.7" fill="#6e6e6e" stroke="#555" stroke-width="0.3" transform="rotate(-12 334.8 167.8)"/>
<polygon points="351.0,176.5 358.0,175.5 363.0,183.0 369.0,196.0 373.0,207.0 368.0,212.0 362.0,200.0 357.0,188.0" fill="url(#g21)" stroke="#555" stroke-width="0.35" stroke-linejoin="round" />
<polygon points="340.0,174.5 360.0,173.0 387.0,170.0 388.0,174.0 374.0,176.5 360.0,178.0 341.0,178.0" fill="#d2d2d2" stroke="#555" stroke-width="0.3" stroke-linejoin="round" />
<polygon points="356.0,214.5 358.7,211.2 364.0,205.5 362.0,196.0 360.5,186.0 362.0,178.5 366.5,176.5 380.0,177.5 392.0,178.0 399.0,186.0 399.0,194.0 390.0,200.0 384.0,206.0 380.0,218.0 381.0,233.0 376.0,231.2 370.0,223.7 362.5,222.5 356.2,217.5" fill="url(#g22)" stroke="#555" stroke-width="0.35" stroke-linejoin="round" />
<path d="M366,207 C368,214 369,220 372,228" fill="none" stroke="#8a8a8a" stroke-width="0.7" />
<path d="M358.7,211.2 L364,216 L364,222" fill="none" stroke="#8e8e8e" stroke-width="0.6" />
<path d="M368.4,178.1 L391.4,189.6 L388.6,195.4 L365.6,183.9 A1.1,3.2 26.6 0 1 368.4,178.1 Z" fill="url(#g23)" stroke="#555" stroke-width="0.3" />
<polygon points="380.2,163.2 383.7,156.2 390.7,150.0 397.7,147.0 404.0,143.0 414.0,147.0 424.0,151.0 425.7,156.2 432.7,161.5 438.0,165.0 440.6,182.5 434.5,186.0 428.0,190.5 420.0,195.0 410.0,196.0 397.7,191.5 389.0,187.7 383.7,179.0 380.5,170.0" fill="url(#g24)" stroke="#555" stroke-width="0.35" stroke-linejoin="round" />
<path d="M383.7,156.2 C389,151 394,149 399,148.5 C393,156 390,168 392,188 L389,187.7 L383.7,179 L380.5,170 L380.2,163.2 Z" fill="#b2b2b2" />
<polygon points="432.7,161.5 438.0,165.0 440.6,182.5 434.5,186.0 430.5,179.0 430.5,169.5" fill="#b6b6b6" stroke="#555" stroke-width="0.3" stroke-linejoin="round" />
<path d="M404.5,152 C398,162 395.5,174 397,190" fill="none" stroke="#858585" stroke-width="0.8" />
<path d="M406.2,152.6 C399.7,162.6 397.2,174.6 398.7,190.6" fill="none" stroke="#e6e6e6" stroke-width="0.8" />
<path d="M416,180 C416,171 424,165 430,168 L433,186 L421,194 Z" fill="#9c9c9c" />
<path d="M414,179.5 L445,195" fill="none" stroke="#ececec" stroke-width="1.0" />
<path d="M400.9,137.4 L425.9,150.4 A1.1,3.1 27.5 0 1 423.1,156.0 L398.1,143.0 A1.1,3.1 27.5 0 1 400.9,137.4 Z" fill="url(#g25)" stroke="#555" stroke-width="0.3" />
<circle cx="426.5" cy="155.3" r="1.6" fill="#d8d8d8" stroke="#777" stroke-width="0.3"/>
<circle cx="393.7" cy="182" r="5.4" fill="#bcbcbc" stroke="#5a5a5a" stroke-width="0.5"/>
<circle cx="393.7" cy="182" r="3.7" fill="#acacac" stroke="#7a7a7a" stroke-width="0.3"/>
<polygon points="410.0,192.0 440.0,205.0 505.0,238.0 505.0,250.0 470.0,234.0 440.0,216.0 398.0,194.0" fill="#707070" />
<path d="M397,192 L460,224 L462,230 L452,262 L444,270 L434,265 L380,232 C377,224 380,208 388,198 C390,196 392,194.5 395,193.5 Z" fill="url(#g26)" stroke="#555" stroke-width="0.35" />
<path d="M399,195.5 C388,203 383,220 386.5,236" fill="none" stroke="#6a6a6a" stroke-width="0.7" />
<path d="M401.5,196.5 C390.5,204 385.5,221 389,237.5" fill="none" stroke="#b0b0b0" stroke-width="0.6" />
<path d="M459,221.7 C447,226 440,232 437,242 C434.5,252 436,262 440,268 L450,272.5 L462,272 L470,262 L472,240 L468,226 Z" fill="url(#g27)" stroke="#555" stroke-width="0.35" />
<path d="M463.5,224 C452,229 445,238 443,248 C442,256 444,263 449,267.5" fill="none" stroke="#6e6e6e" stroke-width="0.7" />
<circle cx="455.5" cy="225.5" r="0.85" fill="#d6d6d6" stroke="#6a6a6a" stroke-width="0.3"/>
<circle cx="448.5" cy="229.5" r="0.85" fill="#d6d6d6" stroke="#6a6a6a" stroke-width="0.3"/>
<circle cx="443" cy="235.5" r="0.85" fill="#d6d6d6" stroke="#6a6a6a" stroke-width="0.3"/>
<circle cx="440" cy="243" r="0.85" fill="#d6d6d6" stroke="#6a6a6a" stroke-width="0.3"/>
<circle cx="439" cy="251" r="0.85" fill="#d6d6d6" stroke="#6a6a6a" stroke-width="0.3"/>
<circle cx="440" cy="258.5" r="0.85" fill="#d6d6d6" stroke="#6a6a6a" stroke-width="0.3"/>
<circle cx="443" cy="265" r="0.85" fill="#d6d6d6" stroke="#6a6a6a" stroke-width="0.3"/>
<circle cx="448" cy="269.5" r="0.85" fill="#d6d6d6" stroke="#6a6a6a" stroke-width="0.3"/>
<polygon points="448.5,245.0 454.5,237.5 465.0,242.0 475.5,239.0 480.0,249.5 478.5,260.0 469.5,266.0 457.5,266.0 450.0,260.0" fill="url(#g28)" stroke="#555" stroke-width="0.35" stroke-linejoin="round" />
<polygon points="451.5,224.7 463.5,222.5 478.5,235.2 475.5,239.0 465.0,242.0 454.5,237.5 448.5,245.0 447.0,233.0" fill="#bababa" stroke="#555" stroke-width="0.35" stroke-linejoin="round" />
<polygon points="454.0,228.0 462.0,226.0 470.0,233.0 463.0,236.5" fill="#d0d0d0" />
<polygon points="458.0,248.0 466.0,246.5 469.5,252.0 468.0,260.0 460.0,261.0" fill="#5a5a5a" />
<polygon points="458.0,248.0 466.0,246.5 467.0,249.0 459.5,250.5" fill="#c6c6c6" />
<circle cx="471.5" cy="258.3" r="3" fill="#8a8a8a" stroke="#4e4e4e" stroke-width="0.4"/>
<polygon points="481.5,249.5 490.5,254.7 486.0,270.5 478.5,266.0" fill="#606060" stroke="#555" stroke-width="0.35" stroke-linejoin="round" />
<polygon points="483.0,252.5 488.7,256.0 485.5,266.5 480.5,263.5" fill="#8a8a8a" />
<polygon points="456.0,269.5 463.0,267.5 470.0,269.0 480.0,277.0 478.5,282.0 470.0,282.0 463.5,281.0 458.0,276.0" fill="#646464" stroke="#555" stroke-width="0.35" stroke-linejoin="round" />
<polygon points="459.0,270.5 464.0,269.0 471.0,272.5 467.0,275.5" fill="#a8a8a8" />
<polygon points="515.5,253.0 519.0,252.0 525.0,256.0 524.5,270.0 520.5,272.0 516.5,269.5" fill="#7c7c7c" stroke="#555" stroke-width="0.3" stroke-linejoin="round" />
<polygon points="519.0,252.0 525.0,256.0 524.5,270.0 521.5,268.0 521.5,257.0" fill="#686868" />
<path d="M478,279.5 L488,281 C492,281 493.2,278 493.4,273 L494,258 C494.3,250 497,245 503,244 C507,244 510,245.5 514,247 L541,263 C546,265 549,262 551,258.5 C554,252 559,247.5 565,247.5 C571,247.5 576,251 579.5,257 C582.5,262.5 584,267 590,267 L596,266.5 C601,265 603,262 606,259" fill="none" stroke="#4a4a4a" stroke-width="3.1" stroke-linecap="round"/>
<path d="M478,279.5 L488,281 C492,281 493.2,278 493.4,273 L494,258 C494.3,250 497,245 503,244 C507,244 510,245.5 514,247 L541,263 C546,265 549,262 551,258.5 C554,252 559,247.5 565,247.5 C571,247.5 576,251 579.5,257 C582.5,262.5 584,267 590,267 L596,266.5 C601,265 603,262 606,259" fill="none" stroke="#b4b4b4" stroke-width="1.7" stroke-linecap="round"/>
<polygon points="530.0,258.0 541.0,256.0 552.0,252.0 562.0,250.0 575.0,252.0 586.0,262.0 590.0,274.0 584.0,290.0 580.0,297.0 571.0,295.0 561.0,291.0 552.0,293.5 549.0,286.0 544.0,276.0 538.0,268.0" fill="url(#g29)" stroke="#555" stroke-width="0.35" stroke-linejoin="round" />
<polygon points="548.0,297.0 548.7,306.0 553.0,309.3 557.5,310.6 563.0,309.8 568.0,306.5 574.0,302.5 580.5,297.5 590.0,288.0 592.0,284.0 584.0,284.0 577.0,290.0 571.0,294.0" fill="url(#g30)" stroke="#555" stroke-width="0.35" stroke-linejoin="round" />
<polygon points="548.0,297.0 551.0,294.5 554.0,293.6 560.0,293.4 566.0,295.0 571.0,296.5 577.0,292.0 584.0,286.0 590.0,286.0 586.0,292.0 580.5,297.5 574.0,301.0 568.0,303.3 560.0,304.2 552.0,303.2 548.6,300.5" fill="#b0b0b0" stroke="#555" stroke-width="0.3" stroke-linejoin="round" />
<ellipse cx="556.7" cy="296.3" rx="1.9" ry="1.2" fill="#4e4e4e"/>
<polygon points="557.0,274.0 566.0,276.0 580.0,276.0 590.0,280.0 587.0,286.0 578.0,288.0 570.0,294.0 563.0,290.0 558.0,283.0" fill="#6e6e6e" stroke="#555" stroke-width="0.3" stroke-linejoin="round" />
<circle cx="565.2" cy="264" r="10.6" fill="#8c8c8c" stroke="#4a4a4a" stroke-width="0.5"/>
<circle cx="565.2" cy="264" r="8.2" fill="#a0a0a0" stroke="#666" stroke-width="0.4"/>
<circle cx="564.8" cy="264" r="4.6" fill="#b6b6b6" stroke="#5a5a5a" stroke-width="0.4"/>
<polygon points="562.0,262.0 564.5,260.5 567.3,261.8 567.6,265.0 565.0,266.8 562.2,265.4" fill="#8a8a8a" stroke="#555" stroke-width="0.3" stroke-linejoin="round" />
<path d="M541,263 C546,265 549,262 551,258.5 C554,252 559,247.5 565,247.5 C571,247.5 576,251 579.5,257 C582.5,262.5 584,267 590,267 L596,266.5 C601,265 603,262 606,259" fill="none" stroke="#4a4a4a" stroke-width="3.1" stroke-linecap="round"/>
<path d="M541,263 C546,265 549,262 551,258.5 C554,252 559,247.5 565,247.5 C571,247.5 576,251 579.5,257 C582.5,262.5 584,267 590,267 L596,266.5 C601,265 603,262 606,259" fill="none" stroke="#b4b4b4" stroke-width="1.7" stroke-linecap="round"/>
<polygon points="574.0,255.0 584.0,246.0 598.0,238.0 612.0,260.0 612.0,276.0 598.0,274.5 585.0,272.5 577.0,266.0" fill="#787878" stroke="#555" stroke-width="0.3" stroke-linejoin="round" />
<polygon points="589.5,244.5 607.5,231.0 613.5,231.0 619.5,234.0 630.0,240.0 636.0,253.5 633.0,267.0 615.0,277.5 609.0,273.0 589.5,255.0" fill="url(#g31)" stroke="#3c3c3c" stroke-width="0.4" stroke-linejoin="round" />
<polygon points="592.0,245.0 607.5,233.0 617.0,236.5 601.0,249.5" fill="#9c9c9c" />
<polygon points="601.0,249.5 617.0,236.5 622.0,249.0 606.0,262.0" fill="#828282" />
<polygon points="606.0,262.0 622.0,249.0 631.0,258.0 629.0,268.0 615.0,276.5 609.0,272.0" fill="#5e5e5e" />
<ellipse cx="629" cy="248" rx="5.2" ry="8.6" transform="rotate(-32 629 248)" fill="#7a7a7a" stroke="#444" stroke-width="0.4"/>
<circle cx="616" cy="233.5" r="1.8" fill="#a0a0a0" stroke="#444" stroke-width="0.3"/>
<polygon points="596.0,262.5 606.0,256.0 609.0,259.0 599.0,266.0" fill="#bdbdbd" stroke="#555" stroke-width="0.3" stroke-linejoin="round" />
<path d="M627.3,242.4 L660.4,220.3 A1.6,4.7 -34.0 0 1 665.6,228.1 L632.7,250.6 Z" fill="url(#g32)" stroke="#777" stroke-width="0.35" />
<circle cx="656" cy="228" r="1.2" fill="#8a8a8a"/>
<circle cx="660.5" cy="225.3" r="1.3" fill="#f4f4f4" stroke="#999" stroke-width="0.3"/>
<path d="M586.6,273.8 L608.2,280.6 L597.8,307.0 L577.4,297.2 A3.8,12.6 21.6 0 1 586.6,273.8 Z" fill="url(#g33)" stroke="#555" stroke-width="0.35" />
<polygon points="604.7,279.7 610.0,277.8 615.0,278.3 620.0,280.0 630.0,286.5 640.0,293.7 647.5,298.5 655.0,303.7 661.0,309.5 666.0,315.0 668.8,320.0 668.3,325.0 666.0,330.0 662.5,332.7 657.0,334.6 652.5,335.0 646.0,334.0 640.0,332.5 630.0,328.5 620.0,323.2 610.0,317.3 600.0,311.0 597.7,307.7" fill="url(#g34)" stroke="#555" stroke-width="0.35" stroke-linejoin="round" />
<g clip-path="url(#cp4)">
<path d="M615.9,273.1 A4.7,23.6 26.7 0 1 594.7,315.2" fill="none" stroke="#4a4a4a" stroke-width="1.7" opacity="0.5"/>
<path d="M620.2,276.2 A4.5,22.7 26.7 0 1 599.8,316.8" fill="none" stroke="#4a4a4a" stroke-width="1.7" opacity="0.5"/>
<path d="M624.4,279.3 A4.4,21.9 26.7 0 1 604.8,318.4" fill="none" stroke="#4a4a4a" stroke-width="1.7" opacity="0.5"/>
<path d="M628.7,282.4 A4.2,21.0 26.7 0 1 609.8,319.9" fill="none" stroke="#4a4a4a" stroke-width="1.7" opacity="0.5"/>
<path d="M632.9,285.5 A4.0,20.1 26.7 0 1 614.8,321.5" fill="none" stroke="#4a4a4a" stroke-width="1.7" opacity="0.5"/>
<path d="M637.2,288.6 A3.9,19.3 26.7 0 1 619.9,323.1" fill="none" stroke="#4a4a4a" stroke-width="1.7" opacity="0.5"/>
<path d="M641.5,291.7 A3.7,18.4 26.7 0 1 624.9,324.6" fill="none" stroke="#4a4a4a" stroke-width="1.7" opacity="0.5"/>
<path d="M645.7,294.8 A3.5,17.6 26.7 0 1 629.9,326.2" fill="none" stroke="#4a4a4a" stroke-width="1.7" opacity="0.5"/>
<path d="M650.0,297.9 A3.3,16.7 26.7 0 1 635.0,327.8" fill="none" stroke="#4a4a4a" stroke-width="1.7" opacity="0.5"/>
<path d="M654.2,301.0 A3.2,15.9 26.7 0 1 640.0,329.4" fill="none" stroke="#4a4a4a" stroke-width="1.7" opacity="0.5"/>
<path d="M658.5,304.1 A3.0,15.0 26.7 0 1 645.0,330.9" fill="none" stroke="#4a4a4a" stroke-width="1.7" opacity="0.5"/>
<path d="M662.7,307.2 A2.8,14.1 26.7 0 1 650.0,332.5" fill="none" stroke="#4a4a4a" stroke-width="1.7" opacity="0.5"/>
<path d="M667.0,310.3 A2.7,13.3 26.7 0 1 655.1,334.1" fill="none" stroke="#4a4a4a" stroke-width="1.7" opacity="0.5"/>
<path d="M671.3,313.4 A2.5,12.4 26.7 0 1 660.1,335.6" fill="none" stroke="#4a4a4a" stroke-width="1.7" opacity="0.5"/>
<path d="M617.8,274.0 A4.7,23.6 26.7 0 1 596.6,316.1" fill="none" stroke="#bcbcbc" stroke-width="0.8" opacity="0.55"/>
<path d="M622.1,277.1 A4.5,22.7 26.7 0 1 601.7,317.7" fill="none" stroke="#bcbcbc" stroke-width="0.8" opacity="0.55"/>
<path d="M626.3,280.2 A4.4,21.9 26.7 0 1 606.7,319.3" fill="none" stroke="#bcbcbc" stroke-width="0.8" opacity="0.55"/>
<path d="M630.6,283.3 A4.2,21.0 26.7 0 1 611.7,320.8" fill="none" stroke="#bcbcbc" stroke-width="0.8" opacity="0.55"/>
<path d="M634.8,286.4 A4.0,20.1 26.7 0 1 616.7,322.4" fill="none" stroke="#bcbcbc" stroke-width="0.8" opacity="0.55"/>
<path d="M639.1,289.5 A3.9,19.3 26.7 0 1 621.8,324.0" fill="none" stroke="#bcbcbc" stroke-width="0.8" opacity="0.55"/>
<path d="M643.4,292.6 A3.7,18.4 26.7 0 1 626.8,325.5" fill="none" stroke="#bcbcbc" stroke-width="0.8" opacity="0.55"/>
<path d="M647.6,295.7 A3.5,17.6 26.7 0 1 631.8,327.1" fill="none" stroke="#bcbcbc" stroke-width="0.8" opacity="0.55"/>
<path d="M651.9,298.8 A3.3,16.7 26.7 0 1 636.9,328.7" fill="none" stroke="#bcbcbc" stroke-width="0.8" opacity="0.55"/>
<path d="M656.1,301.9 A3.2,15.9 26.7 0 1 641.9,330.3" fill="none" stroke="#bcbcbc" stroke-width="0.8" opacity="0.55"/>
<path d="M660.4,305.0 A3.0,15.0 26.7 0 1 646.9,331.8" fill="none" stroke="#bcbcbc" stroke-width="0.8" opacity="0.55"/>
<path d="M664.6,308.1 A2.8,14.1 26.7 0 1 651.9,333.4" fill="none" stroke="#bcbcbc" stroke-width="0.8" opacity="0.55"/>
<path d="M668.9,311.2 A2.7,13.3 26.7 0 1 657.0,335.0" fill="none" stroke="#bcbcbc" stroke-width="0.8" opacity="0.55"/>
<path d="M673.2,314.3 A2.5,12.4 26.7 0 1 662.0,336.5" fill="none" stroke="#bcbcbc" stroke-width="0.8" opacity="0.55"/>
</g>
<path d="M669.7,323.2 L708.0,351.3 A1.0,2.8 36.3 0 1 704.6,355.9 L666.3,327.8 Z" fill="url(#g35)" stroke="#555" stroke-width="0.35" />
</g>
<g id="shield">
<path d="M210,37.5 C213,35 215,34.4 217.5,34.4 C220,34.4 223,35 225,36.3 C228,38 230,39.5 231,41 C233,44 234,47 235,48.8 C237,51.5 240,53.5 242,55 C243,56.5 243,58 242,59.4 C240.5,61.5 239,63 237.5,65 C235.5,69 234,73 232.5,77.5 C230.5,83 229,89 228,95 C226.5,101 225,108 224,115 C223.3,122 223,130 223,146 L185.6,142 C183,141 181,139 180,136 C176.5,135.5 175.6,134 175.6,132 L175.6,115 L182,115 C184.5,115 185.6,114 185.6,111 C185.4,103 185.4,95 185.6,87.5 C185.9,83 186.4,79 187,75 C187.6,70.5 188.4,66.5 189.4,62.5 C190.6,58.5 192.4,55.3 194.4,52.5 C197,49.5 200,47 202.5,45 C205,42.5 207.5,40 210,37.5 Z" fill="url(#g36)" />
<g clip-path="url(#cUp)">
<rect x="174" y="113" width="11.5" height="26" fill="#aaaaaa"/>
<path d="M214,52 C211,70 206,90 199,110 L197,140" fill="none" stroke="#e2e2e2" stroke-width="20" filter="url(#bl3)" opacity="0.95"/>
<path d="M211.5,60 C210.5,72 207,88 200,102 C196,110 192,117 191,138" fill="none" stroke="#ffffff" stroke-width="11" filter="url(#bl2)"/>
<path d="M189.5,112 L189.5,138" fill="none" stroke="#ffffff" stroke-width="3" filter="url(#bl1)" opacity="0.9"/>
<path d="M200,36 L240,36 L246,58 L236,66 L226,50 L212,44 L198,52 Z" fill="#a4a4a4" stroke="none" stroke-width="0" filter="url(#bl3)" opacity="0.75"/>
<path d="M243,56 C238,64 233,78 229,95 L224.5,118 L224,146" fill="none" stroke="#8f8f8f" stroke-width="3.5" filter="url(#bl1)" opacity="0.8"/>
<path d="M200,97 C208,99 216,100 228,99" fill="none" stroke="#9a9a9a" stroke-width="5" filter="url(#bl2)" opacity="0.7"/>
<path d="M216,104 L215,146" fill="none" stroke="#a2a2a2" stroke-width="13" filter="url(#bl2)" opacity="0.85"/>
<path d="M205,41 C194,50 189,62 187,78 L185.6,112" fill="none" stroke="#969696" stroke-width="2.5" filter="url(#bl1)" opacity="0.8"/>
<path d="M180,137 L200,139 L224,144" fill="none" stroke="#8a8a8a" stroke-width="2.2" filter="url(#bl1)" opacity="0.65"/>
</g>
<path d="M210,37.5 C213,35 215,34.4 217.5,34.4 C220,34.4 223,35 225,36.3 C228,38 230,39.5 231,41 C233,44 234,47 235,48.8 C237,51.5 240,53.5 242,55 C243,56.5 243,58 242,59.4 C240.5,61.5 239,63 237.5,65 C235.5,69 234,73 232.5,77.5 C230.5,83 229,89 228,95 C226.5,101 225,108 224,115 C223.3,122 223,130 223,146 L185.6,142 C183,141 181,139 180,136 C176.5,135.5 175.6,134 175.6,132 L175.6,115 L182,115 C184.5,115 185.6,114 185.6,111 C185.4,103 185.4,95 185.6,87.5 C185.9,83 186.4,79 187,75 C187.6,70.5 188.4,66.5 189.4,62.5 C190.6,58.5 192.4,55.3 194.4,52.5 C197,49.5 200,47 202.5,45 C205,42.5 207.5,40 210,37.5 Z" fill="none" stroke="#8c8c8c" stroke-width="0.5" opacity="0.8"/>
<path d="M172.5,145 L175.6,142.8 L176,140.6 C180,139 184,138.5 188,138.3 C195,138 205,138.3 222,140.6 L223.5,143.2 L223.8,165 L226.9,170 C226.6,173 226,175.5 225,177.5 C224,180.5 222.8,183 221.3,185 L218,185 L218,180 L219.4,175.6 L217.5,175 C204,175.2 187,174 172.5,171.9 L172.5,171 L163.2,159 L172.5,145.2 Z" fill="url(#g37)" />
<g clip-path="url(#cLo)">
<path d="M185.3,138 L185.3,175" fill="none" stroke="#ffffff" stroke-width="5.5" filter="url(#bl1)"/>
<path d="M193,138 L193,176" fill="none" stroke="#e4e4e4" stroke-width="9" filter="url(#bl2)" opacity="0.8"/>
<path d="M162.5,159 L172.5,144.5 L172.5,172 Z" fill="#ababab" />
<circle cx="166.6" cy="158.6" r="0.8" fill="#f4f4f4"/>
<path d="M172.8,143 L172.8,172" fill="none" stroke="#9a9a9a" stroke-width="1.6" filter="url(#bl05)"/>
<path d="M174,156.3 L191,156.3" fill="none" stroke="#9c9c9c" stroke-width="0.8" />
<path d="M223.5,143 L223.5,166 L226,171 L221,185" fill="none" stroke="#8a8a8a" stroke-width="2.4" filter="url(#bl05)"/>
<path d="M217,176 L224,170 L227,171 L222,186 L217,186 Z" fill="#979797" />
<ellipse cx="220.6" cy="181.2" rx="0.9" ry="1.6" fill="#f4f4f4" transform="rotate(20 220.6 181.2)"/>
</g>
<path d="M172.5,145 L175.6,142.8 L176,140.6 C180,139 184,138.5 188,138.3 C195,138 205,138.3 222,140.6 L223.5,143.2 L223.8,165 L226.9,170 C226.6,173 226,175.5 225,177.5 C224,180.5 222.8,183 221.3,185 L218,185 L218,180 L219.4,175.6 L217.5,175 C204,175.2 187,174 172.5,171.9 L172.5,171 L163.2,159 L172.5,145.2 Z" fill="none" stroke="#8c8c8c" stroke-width="0.5" opacity="0.8"/>
</g>
<path d="M173.8,191.3 L173.8,235.2 L170.2,235.2 L170.2,191.3 Z" fill="url(#g38)" stroke="#666" stroke-width="0.35" />
<rect x="168.2" y="197.6" width="7.6" height="4.6" rx="0.8" fill="#b9b9b9" stroke="#5a5a5a" stroke-width="0.6"/>
<rect x="170.6" y="197.6" width="2.6" height="4.6" fill="#dedede"/>
<rect x="168.2" y="225.4" width="7.6" height="4.6" rx="0.8" fill="#b9b9b9" stroke="#5a5a5a" stroke-width="0.6"/>
<rect x="170.6" y="225.4" width="2.6" height="4.6" fill="#dedede"/>
<path d="M163.5,90 L163.5,100.5 L174.3,107.5 L174.3,112.8" fill="none" stroke="#1e1e1e" stroke-width="1.25" />
<line x1="168.3" y1="115.0" x2="176.0" y2="115.0" stroke="#1e1e1e" stroke-width="1.1"/>
<line x1="174.2" y1="118.8" x2="174.0" y2="139.0" stroke="#222" stroke-width="1.2"/>
<line x1="173.0" y1="175.6" x2="172.7" y2="188.5" stroke="#222" stroke-width="1.3"/>
<line x1="171.0" y1="237.3" x2="171.3" y2="243.8" stroke="#222" stroke-width="1.3"/>
<circle cx="164.5" cy="79.5" r="10.3" fill="#fff" stroke="#111" stroke-width="1.2"/>
<text x="164.5" y="84.7" font-size="14.5" font-weight="bold" text-anchor="middle" fill="#111" stroke="#111" stroke-width="0.45" opacity="0.999">6</text>
<line x1="127.5" y1="151.4" x2="166.0" y2="158.4" stroke="#2a2a2a" stroke-width="1.0" stroke-dasharray="14 2 3.5 2"/>
<circle cx="116.7" cy="149.8" r="10.3" fill="#fff" stroke="#111" stroke-width="1.2"/>
<text x="116.7" y="155.0" font-size="14.5" font-weight="bold" text-anchor="middle" fill="#111" stroke="#111" stroke-width="0.45" opacity="0.999">7</text>
<line x1="228.0" y1="151.9" x2="267.8" y2="151.9" stroke="#2a2a2a" stroke-width="1.3"/>
<text x="273.3" y="158.6" font-size="18.4" font-weight="bold" text-anchor="middle" fill="#111" stroke="#111" stroke-width="0.45" opacity="0.999">4</text>
<line x1="134.0" y1="210.6" x2="163.8" y2="210.6" stroke="#2a2a2a" stroke-width="1.3"/>
<text x="128.4" y="217.6" font-size="18.4" font-weight="bold" text-anchor="middle" fill="#111" stroke="#111" stroke-width="0.45" opacity="0.999">5</text>
<line x1="406.3" y1="252.0" x2="406.3" y2="292.5" stroke="#2a2a2a" stroke-width="1.3"/>
<text x="405.6" y="309.3" font-size="18.4" font-weight="bold" text-anchor="middle" fill="#111" stroke="#111" stroke-width="0.45" opacity="0.999">1</text>
<line x1="557.0" y1="227.5" x2="557.0" y2="300.0" stroke="#2a2a2a" stroke-width="1.0" stroke-dasharray="1.5 2 16 2"/>
<line x1="557.0" y1="313.0" x2="557.0" y2="329.5" stroke="#2a2a2a" stroke-width="1.0" stroke-dasharray="9.5 1.5 2 1.5"/>
<circle cx="557.0" cy="216.3" r="10.3" fill="#fff" stroke="#111" stroke-width="1.2"/>
<text x="557.0" y="221.5" font-size="14.5" font-weight="bold" text-anchor="middle" fill="#111" stroke="#111" stroke-width="0.45" opacity="0.999">2</text>
<circle cx="557.0" cy="340.5" r="10.3" fill="#fff" stroke="#111" stroke-width="1.2"/>
<text x="557.0" y="345.7" font-size="14.5" font-weight="bold" text-anchor="middle" fill="#111" stroke="#111" stroke-width="0.45" opacity="0.999">3</text>
<g id="legend" fill="none" stroke="#2a2a2a" stroke-width="1">
<rect x="721.8" y="298.3" width="70" height="239.9"/>
<line x1="721.8" y1="346" x2="791.8" y2="346"/>
<line x1="721.8" y1="393.8" x2="791.8" y2="393.8"/>
<line x1="721.8" y1="442" x2="791.8" y2="442"/>
<line x1="721.8" y1="490.2" x2="791.8" y2="490.2"/>
</g>
<text x="735.4" y="316.2" font-size="18" font-weight="bold" text-anchor="middle" fill="#111" stroke="#111" stroke-width="0.45" opacity="0.999">7</text>
<text x="735.4" y="364.2" font-size="18" font-weight="bold" text-anchor="middle" fill="#111" stroke="#111" stroke-width="0.45" opacity="0.999">6</text>
<text x="735.4" y="412.2" font-size="18" font-weight="bold" text-anchor="middle" fill="#111" stroke="#111" stroke-width="0.45" opacity="0.999">3</text>
<text x="735.4" y="460.2" font-size="18" font-weight="bold" text-anchor="middle" fill="#111" stroke="#111" stroke-width="0.45" opacity="0.999">2</text>
<text x="759.8" y="552.7" font-size="13" font-weight="normal" text-anchor="middle" fill="#3a3a3a" opacity="0.999">458443</text>
<path d="M776.0,325.0 L775.4,342.5 L762.6,342.5 L762.0,325.0 Z" fill="url(#g39)" stroke="#5e5e5e" stroke-width="0.4" />
<path d="M763,338 L775,338 L774,342 C772,343.5 766,343.5 764,342 Z" fill="#8a8a8a" />
<path d="M762.2,328 C766,329.3 772,329.3 775.8,328" fill="none" stroke="#6a6a6a" stroke-width="0.6" />
<path d="M762.2,330.5 C766,331.8 772,331.8 775.8,330.5" fill="none" stroke="#6a6a6a" stroke-width="0.6" />
<path d="M762.2,333 C766,334.3 772,334.3 775.8,333" fill="none" stroke="#6a6a6a" stroke-width="0.6" />
<path d="M762.2,335.5 C766,336.8 772,336.8 775.8,335.5" fill="none" stroke="#6a6a6a" stroke-width="0.6" />
<path d="M762.2,338 C766,339.3 772,339.3 775.8,338" fill="none" stroke="#6a6a6a" stroke-width="0.6" />
<path d="M762.2,340.5 C766,341.8 772,341.8 775.8,340.5" fill="none" stroke="#6a6a6a" stroke-width="0.6" />
<ellipse cx="769" cy="320" rx="15" ry="6.2" fill="#9c9c9c" stroke="#5e5e5e" stroke-width="0.45"/>
<ellipse cx="769" cy="319" rx="14.2" ry="5.4" fill="#b2b2b2"/>
<polygon points="757.5,309.0 761.0,304.5 769.0,303.0 777.5,304.5 781.5,309.0 781.0,318.0 775.0,322.0 763.0,322.0 758.0,318.0" fill="url(#g40)" stroke="#5e5e5e" stroke-width="0.45" stroke-linejoin="round" />
<path d="M763,322 L762,311 M775,322 L776.5,311" fill="none" stroke="#7a7a7a" stroke-width="0.5" />
<ellipse cx="769.3" cy="308.3" rx="8.6" ry="4.8" fill="#a2a2a2" stroke="#7a7a7a" stroke-width="0.5"/>
<ellipse cx="769.3" cy="308.6" rx="6.8" ry="3.6" fill="#adadad"/>
<ellipse cx="766" cy="378" rx="20" ry="9.6" fill="#a4a4a4" stroke="#5e5e5e" stroke-width="0.45"/>
<ellipse cx="766" cy="376.5" rx="19" ry="8.6" fill="#bcbcbc"/>
<polygon points="749.0,362.0 754.0,355.0 766.0,352.3 778.0,355.0 784.0,362.0 784.0,377.0 776.0,383.0 758.0,383.0 749.5,377.0" fill="url(#g41)" stroke="#5e5e5e" stroke-width="0.45" stroke-linejoin="round" />
<path d="M758,383 L757,365.5 M776,383 L777,365.5" fill="none" stroke="#8a8a8a" stroke-width="0.5" />
<path d="M749,362 L757,365.5 L777,365.5 L784,362" fill="none" stroke="#d8d8d8" stroke-width="0.7" />
<ellipse cx="766" cy="359.3" rx="9.3" ry="5.2" fill="#747474" stroke="#9a9a9a" stroke-width="0.6"/>
<ellipse cx="767" cy="360.5" rx="7" ry="3.6" fill="#828282"/>
<path d="M766.5,410.0 L766.5,432.0 L758.5,432.0 L758.5,410.0 Z" fill="url(#g42)" stroke="#5e5e5e" stroke-width="0.35" />
<path d="M759,431.5 L766,431.5 L765,434.5 C764,435.8 761,435.8 760,434.5 Z" fill="#8a8a8a" stroke="#5e5e5e" stroke-width="0.3" />
<ellipse cx="762.5" cy="406" rx="10.5" ry="5.2" fill="#9a9a9a" stroke="#5e5e5e" stroke-width="0.45"/>
<ellipse cx="762.5" cy="405.2" rx="9.6" ry="4.4" fill="#b0b0b0"/>
<ellipse cx="762.5" cy="404" rx="5.4" ry="2.8" fill="#8e8e8e" stroke="#6e6e6e" stroke-width="0.4"/>
<polygon points="759.0,399.5 761.0,397.6 764.5,397.6 766.3,399.5 766.0,403.5 764.0,405.0 761.0,405.0 759.2,403.5" fill="#a4a4a4" stroke="#5e5e5e" stroke-width="0.4" stroke-linejoin="round" />
<circle cx="762.6" cy="400.8" r="1.3" fill="#c8c8c8" stroke="#777" stroke-width="0.3"/>
<polygon points="752.0,479.5 756.0,480.5 756.0,486.0 754.0,487.0 752.0,486.0" fill="#8a8a8a" stroke="#5e5e5e" stroke-width="0.4" stroke-linejoin="round" />
<polygon points="779.0,467.0 783.0,466.0 783.0,470.5 781.0,471.5 779.0,470.5" fill="#8a8a8a" stroke="#5e5e5e" stroke-width="0.4" stroke-linejoin="round" />
<polygon points="741.5,471.0 745.0,465.0 750.0,459.5 756.0,456.5 762.0,454.0 774.0,451.5 780.0,453.5 786.5,459.0 786.5,464.0 776.0,470.0 768.0,475.0 760.0,479.0 754.0,480.5 748.0,478.0 743.0,474.5" fill="url(#g43)" stroke="#4a4a4a" stroke-width="0.6" stroke-linejoin="round" />
<polygon points="774.0,451.5 780.0,453.5 786.5,459.0 786.5,464.0 782.0,466.0 780.0,460.0 772.0,455.0" fill="#5e5e5e" />
<polygon points="741.5,471.0 743.0,474.5 748.0,478.0 754.0,480.5 756.0,477.0 750.0,474.0 745.0,469.5" fill="#777" />
<polygon points="748.0,470.0 752.0,467.5 757.0,471.5 753.0,474.0" fill="#cfcfcf" stroke="#777" stroke-width="0.3" stroke-linejoin="round" />
<ellipse cx="763" cy="463" rx="13" ry="6.5" transform="rotate(-22 763 463)" fill="#b4b4b4" stroke="#6a6a6a" stroke-width="0.5"/>
<polygon points="756.5,462.0 759.0,457.5 765.0,455.5 770.5,457.0 772.0,461.0 769.0,465.5 763.0,467.5 758.0,466.0" fill="#cacaca" stroke="#555" stroke-width="0.5" stroke-linejoin="round" />
<polygon points="756.5,462.0 758.0,466.0 763.0,467.5 769.0,465.5 772.0,461.0 772.0,463.0 769.5,467.5 763.0,469.8 757.5,468.0 756.3,464.0" fill="#8c8c8c" />
<ellipse cx="764.2" cy="459.8" rx="3.3" ry="2.3" fill="#7a7a7a" stroke="#5e5e5e" stroke-width="0.4"/>
<polygon points="727.5,528.0 765.5,528.0 765.5,534.0 727.5,534.0" fill="#000" />
<polygon points="786.5,505.5 786.5,510.5 763.5,527.0 756.5,523.0" fill="#000" />
<polygon points="727.5,506.5 737.0,512.0 767.5,494.5 786.5,505.5 756.5,523.0 765.5,528.0 727.5,528.0" fill="#fff" stroke="#111" stroke-width="0.9" stroke-linejoin="round" />
</svg>
</body></html>
